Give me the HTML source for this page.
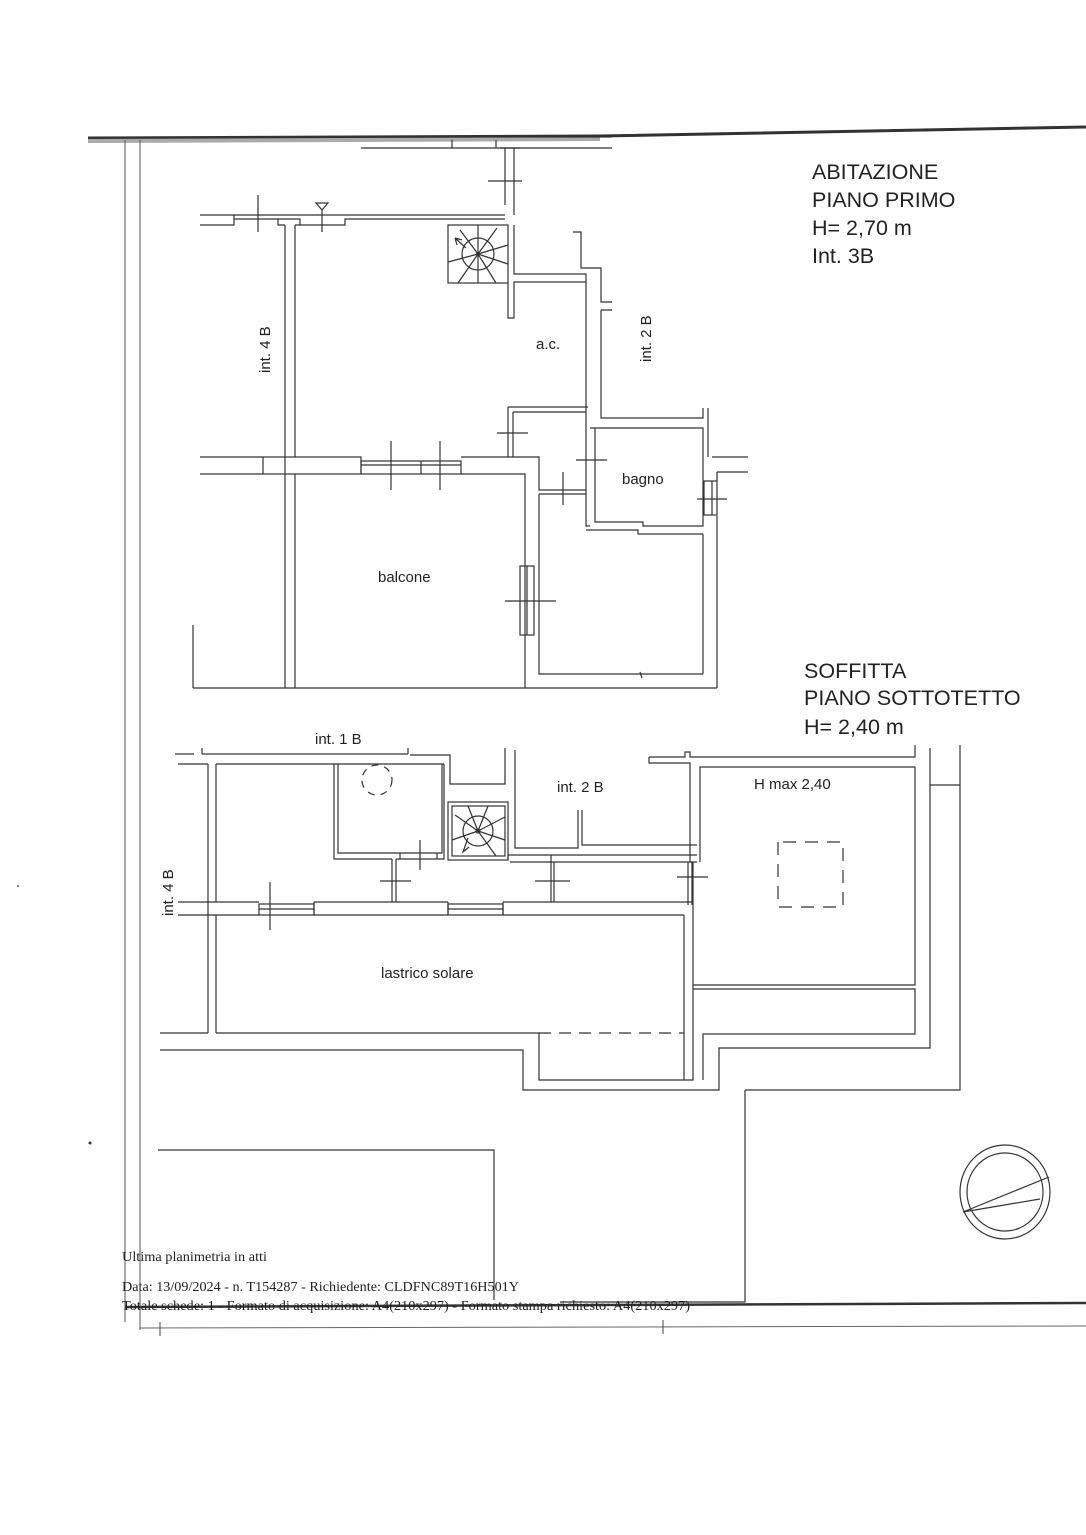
<!DOCTYPE html>
<html><head><meta charset="utf-8"><style>
html,body{margin:0;padding:0;background:#fff}
svg{display:block}
text{font-family:"Liberation Sans",sans-serif;fill:#222}
.s{font-family:"Liberation Serif",serif;fill:#222}
</style></head><body>
<svg width="1086" height="1535" viewBox="0 0 1086 1535" xmlns="http://www.w3.org/2000/svg">
<rect width="1086" height="1535" fill="#fff"/>
<!-- page border -->
<path d="M88 138 L600 136 L1086 127" stroke="#333" stroke-width="3" fill="none"/>
<path d="M88 141 L600 139" stroke="#aaa" stroke-width="4" fill="none"/>
<line x1="125" y1="140" x2="125" y2="1322" stroke="#555" stroke-width="1"/>
<line x1="140" y1="140" x2="140" y2="1330" stroke="#555" stroke-width="1"/>
<path d="M125 1307 L1086 1303" stroke="#333" stroke-width="2.5" fill="none"/>
<line x1="140" y1="1328" x2="1086" y2="1326" stroke="#666" stroke-width="1"/>
<line x1="160" y1="1322" x2="160" y2="1336" stroke="#444"/>
<line x1="663" y1="1320" x2="663" y2="1334" stroke="#444"/>

<g fill="none" stroke="#333" stroke-width="1.2">
<!-- ===== PIANO PRIMO ===== -->
<line x1="361" y1="137" x2="612" y2="137"/>
<line x1="361" y1="148" x2="612" y2="148"/>
<line x1="452" y1="140" x2="452" y2="148"/>
<line x1="496" y1="140" x2="496" y2="148"/>
<path d="M505 148 V205 M514 148 V215"/>
<path d="M500 148 H520"/>
<line x1="488" y1="181" x2="522" y2="181"/>
<path d="M200 215 H505 M200 225 H234 V219 H278 V225 H285 M295 225 H345 V219 H505"/>
<path d="M234 215 V219 M278 219 H300 V225"/>
<line x1="258" y1="195" x2="258" y2="232"/>
<line x1="322" y1="210" x2="322" y2="232"/>
<path d="M316 203 L328 203 L322 210 Z"/>
<path d="M285 225 V688 M295 225 V457 M295 474 V688"/>
<rect x="448" y="225" width="60" height="58"/>
<circle cx="478" cy="254" r="16"/>
<circle cx="478" cy="254" r="1.5"/>
<path d="M478 254 L460 230 M478 254 L478 225 M478 254 L497 228 M478 254 L508 245 M478 254 L508 264 M478 254 L496 283 M478 254 L478 283 M478 254 L458 283 M478 254 L448 262"/>
<path d="M466 248 L455 238 M455 238 L462 240 M455 238 L457 245"/>
<path d="M514 225 V274 H586 V425 M508 283 V318 H514 V282 H586"/>
<path d="M573 232 H581 V268 H601 V302 H612 M601 310 H612 M601 310 V418 H703 V408 M708 408 V457"/>
<path d="M508 407 H588 M513 412 H586 M508 407 V457 M513 412 V457"/>
<line x1="497" y1="433" x2="528" y2="433"/>
<path d="M200 457 H263 M200 474 H263"/>
<rect x="263" y="457" width="98" height="17"/>
<rect x="361" y="461" width="100" height="13"/>
<path d="M361 465 H461 M421 461 V474"/>
<line x1="391" y1="441" x2="391" y2="490"/>
<line x1="440" y1="441" x2="440" y2="490"/>
<path d="M461 457 H539 V490 H586 M461 474 H525 V688 M539 494 H586 M539 494 V674 H703"/>
<line x1="563" y1="472" x2="563" y2="505"/>
<rect x="520" y="566" width="14" height="69"/>
<line x1="527" y1="566" x2="527" y2="635"/>
<line x1="505" y1="601" x2="556" y2="601"/>
<path d="M590 428 H703 V526 H643 V522 H595 V428 M586 425 V526 H590 M586 530 H638 V534 H703"/>
<line x1="576" y1="460" x2="607" y2="460"/>
<path d="M703 534 V674 M717 516 V688"/>
<rect x="704" y="481" width="13" height="34"/>
<line x1="712" y1="481" x2="712" y2="515"/>
<line x1="697" y1="499" x2="727" y2="499"/>
<path d="M712 457 H748 M717 472 H748 M717 472 V481"/>
<path d="M193 688 H717 M193 625 V688"/>
<line x1="640" y1="672" x2="642" y2="678"/>

<!-- ===== SOTTOTETTO ===== -->
<path d="M175 754 H194 M202 754 H408 M202 748 V754 M408 748 V754"/>
<path d="M178 764 H208 M216 764 H334 V859 H392 M338 764 V853 H442 V764 H338 M334 764 H444"/>
<path d="M208 764 V1033 M216 764 V902 M216 915 V1033"/>
<path d="M410 755 H450 V784 H505 V748 M444 764 V859 H396"/>
<path d="M392 859 V902 M396 859 V902"/>
<line x1="420" y1="840" x2="420" y2="870"/>
<path d="M400 853 V859 M437 853 V859"/>
<line x1="380" y1="881" x2="411" y2="881"/>
<circle cx="377" cy="780" r="15" stroke-dasharray="7 6"/>
<rect x="448" y="802" width="60" height="58"/>
<rect x="452" y="806" width="53" height="50"/>
<circle cx="478" cy="831" r="15"/>
<circle cx="478" cy="831" r="2"/>
<path d="M478 831 L455 815 M478 831 L468 806 M478 831 L488 806 M478 831 L505 817 M478 831 L505 840 M478 831 L496 856 M478 831 L452 840"/>
<path d="M468 838 L463 852 L469 847"/>
<path d="M515 750 V848 H578 V810 M582 810 V845 H697"/>
<path d="M508 860 V855 H697 M510 862 H697"/>
<line x1="551" y1="855" x2="551" y2="902"/>
<line x1="554" y1="862" x2="554" y2="902"/>
<line x1="535" y1="881" x2="570" y2="881"/>
<path d="M688 862 V905 M692 862 V905"/>
<line x1="677" y1="877" x2="708" y2="877"/>
<path d="M178 902 H259 M178 915 H259"/>
<rect x="259" y="904" width="55" height="11"/>
<line x1="259" y1="909" x2="314" y2="909"/>
<line x1="270" y1="882" x2="270" y2="930"/>
<path d="M314 902 H448 M314 915 H448 M314 902 V915 M448 902 V915"/>
<rect x="448" y="904" width="55" height="11"/>
<line x1="448" y1="909" x2="503" y2="909"/>
<path d="M503 902 H693 M503 915 H684 M503 902 V915"/>
<path d="M684 915 V1080 M693 862 V1080 H539 V1033 H216"/>
<line x1="539" y1="1033" x2="684" y2="1033" stroke-dasharray="12 8"/>
<path d="M160 1033 H208 M160 1050 H523 V1090 H719 V1048 H930 V748"/>
<path d="M649 757 H685 V752 H690 V757 H915 V745 M649 757 V763 H690 V862 M700 862 V767 H915 V985 H693 M693 989 H915 V1034 H703 V1080"/>
<path d="M778 842 V907 H843 V842 Z" stroke-dasharray="13 9"/>
<path d="M930 785 H960 M960 745 V1090 H745 M745 1090 V1302 H560"/>
<path d="M158 1150 H494 V1300"/>
</g>

<g fill="none" stroke="#333" stroke-width="1.2">
<ellipse cx="1005" cy="1192" rx="45" ry="47"/>
<ellipse cx="1005" cy="1192" rx="38" ry="39"/>
<path d="M963 1212 L1049 1177 M963 1212 L1040 1199"/>
</g>

<text x="812" y="179" font-size="21.5">ABITAZIONE</text>
<text x="812" y="207" font-size="21.5">PIANO PRIMO</text>
<text x="812" y="235" font-size="21.5">H= 2,70 m</text>
<text x="812" y="263" font-size="21.5">Int. 3B</text>
<text x="804" y="678" font-size="21.5">SOFFITTA</text>
<text x="804" y="705" font-size="21.5">PIANO SOTTOTETTO</text>
<text x="804" y="734" font-size="21.5">H= 2,40 m</text>
<text x="536" y="349" font-size="15">a.c.</text>
<text x="622" y="484" font-size="15">bagno</text>
<text x="378" y="582" font-size="15">balcone</text>
<text transform="translate(270,373) rotate(-90)" font-size="15">int. 4 B</text>
<text transform="translate(651,362) rotate(-90)" font-size="15">int. 2 B</text>
<text x="315" y="744" font-size="15">int. 1 B</text>
<text x="557" y="792" font-size="15">int. 2 B</text>
<text x="754" y="789" font-size="15">H max 2,40</text>
<text x="381" y="978" font-size="15">lastrico solare</text>
<text transform="translate(173,916) rotate(-90)" font-size="15">int. 4 B</text>

<text class="s" x="122" y="1261" font-size="13.5" textLength="145" lengthAdjust="spacingAndGlyphs">Ultima planimetria in atti</text>
<text class="s" x="122" y="1291" font-size="13.5" textLength="397" lengthAdjust="spacingAndGlyphs">Data: 13/09/2024 - n. T154287 - Richiedente: CLDFNC89T16H501Y</text>
<text class="s" x="122" y="1310" font-size="13.5" textLength="568" lengthAdjust="spacingAndGlyphs">Totale schede: 1 - Formato di acquisizione: A4(210x297)  - Formato stampa richiesto: A4(210x297)</text>
<circle cx="90" cy="1143" r="1.5" fill="#333"/>
<circle cx="18" cy="886" r="1" fill="#555"/>
</svg>
</body></html>
